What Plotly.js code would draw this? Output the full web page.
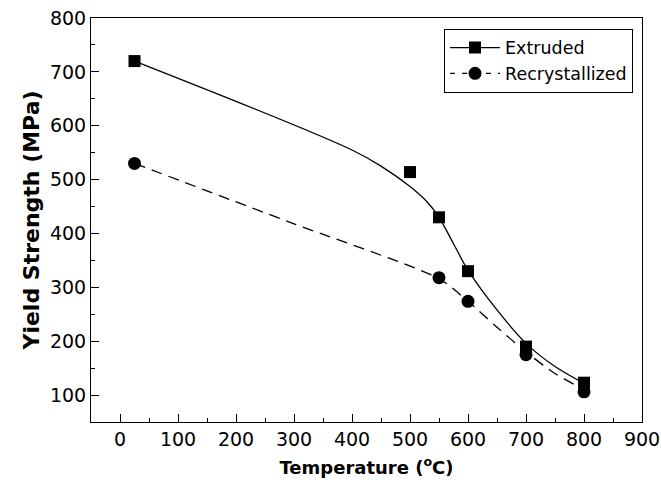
<!DOCTYPE html>
<html>
<head>
<meta charset="utf-8">
<script src="https://cdn.plot.ly/plotly-3.0.1.min.js"></script>
<style>html,body{margin:0;padding:0;background:#fff;}#chart{width:661px;height:483px;}</style>
</head>
<body>
<div id="chart"></div>
<script>
// Measured points
var extrudedT = [25, 500, 550, 600, 700, 800];
var extrudedYS = [720, 514, 430, 330, 190, 123];
var recrystT = [25, 550, 600, 700, 800];
var recrystYS = [530, 318, 274, 175, 106];

// Fitted curves
var extrudedFitT = [25, 400, 450, 500, 530, 550, 575, 600, 650, 700, 750, 800];
var extrudedFitYS = [720, 555, 525, 487, 458, 430, 381, 332, 258, 196, 153, 122];
var recrystFitT = [25, 300, 550, 600, 650, 700, 750, 800];
var recrystFitYS = [530, 418, 316, 274, 226, 180, 140, 110];

var xTickVals = [0, 100, 200, 300, 400, 500, 600, 700, 800, 900];
var yTickVals = [100, 200, 300, 400, 500, 600, 700, 800];

var seriesNames = ['Extruded', 'Recrystallized'];

var lineW = 1.3;
var traces = [
  {x: extrudedFitT, y: extrudedFitYS, mode: 'lines', line: {color: '#000', width: lineW, shape: 'spline', smoothing: 1}, showlegend: false, hoverinfo: 'skip'},
  {x: recrystFitT, y: recrystFitYS, mode: 'lines', line: {color: '#000', width: lineW, dash: '11px,7px', shape: 'spline', smoothing: 0.7}, showlegend: false, hoverinfo: 'skip'},
  {x: extrudedT, y: extrudedYS, mode: 'markers', marker: {symbol: 'square', size: 12, color: '#000'}, showlegend: false},
  {x: recrystT, y: recrystYS, mode: 'markers', marker: {symbol: 'circle', size: 13, color: '#000'}, showlegend: false},
  {x: [null], y: [null], name: seriesNames[0], mode: 'lines+markers', line: {color: '#000', width: lineW}, marker: {symbol: 'square', size: 12, color: '#000'}},
  {x: [null], y: [null], name: seriesNames[1], mode: 'lines+markers', line: {color: '#000', width: lineW, dash: '5px,7px'}, marker: {symbol: 'circle', size: 13, color: '#000'}}
];

var fontFam = '"DejaVu Sans", sans-serif';
var axisCommon = {
  showgrid: false, zeroline: false,
  showline: true, linecolor: '#000', linewidth: 1, mirror: true,
  ticks: 'inside', ticklen: 8, tickwidth: 1, tickcolor: '#000',
  minor: {ticks: 'inside', ticklen: 4, tickwidth: 1, tickcolor: '#000', dtick: 50},
  tickfont: {family: fontFam, size: 19, color: '#000'}
};

var layout = {
  width: 661, height: 483,
  margin: {l: 91, r: 19, t: 18, b: 61},
  paper_bgcolor: '#fff', plot_bgcolor: '#fff',
  xaxis: Object.assign({}, axisCommon, {
    range: [-50, 900], tickmode: 'array', tickvals: xTickVals,
    title: {text: 'Temperature (<sup>o</sup>C)', font: {family: fontFam, size: 18, color: '#000', weight: 'bold'}, standoff: 12}
  }),
  yaxis: Object.assign({}, axisCommon, {
    range: [50, 800], tickmode: 'array', tickvals: yTickVals,
    title: {text: 'Yield Strength (MPa)', font: {family: fontFam, size: 22, color: '#000', weight: 'bold'}, standoff: 4}
  }),
  legend: {
    x: 0.9837, y: 0.9735, xanchor: 'right', yanchor: 'top',
    bordercolor: '#000', borderwidth: 1, bgcolor: '#fff',
    font: {family: fontFam, size: 17.5, color: '#000'},
    itemwidth: 50, tracegroupgap: 0
  },
  showlegend: true
};

Plotly.newPlot('chart', traces, layout, {displayModeBar: false, staticPlot: true});
</script>
</body>
</html>
